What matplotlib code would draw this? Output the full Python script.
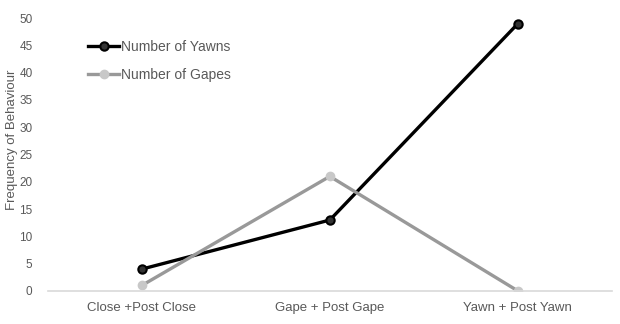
import matplotlib
matplotlib.use("Agg")
import matplotlib.pyplot as plt

plt.rcParams["font.family"] = ["Liberation Sans", "DejaVu Sans"]

categories = ["Close +Post Close", "Gape + Post Gape", "Yawn + Post Yawn"]
yawns = [4, 13, 49]
gapes = [1, 21, 0]

fig = plt.figure(figsize=(6.2, 3.24), dpi=100)
ax = fig.add_axes([0.077, 0.102, 0.91, 0.842])

x = list(range(len(categories)))
ax.plot(x, yawns, color="black", lw=2.4, marker="o", ms=6,
        mfc="#333333", mec="black", mew=1.5, label="Number of Yawns")
ax.plot(x, gapes, color="#999999", lw=2.4, marker="o", ms=6,
        mfc="#c8c8c8", mec="#c8c8c8", label="Number of Gapes")

ax.set_xlim(-0.5, 2.5)
ax.set_ylim(0, 50)
ax.set_yticks(range(0, 51, 5))
ax.set_xticks(x)
ax.set_xticklabels(categories)
ax.tick_params(colors="#595959", length=0)
ax.tick_params(axis="x", labelsize=9.5, pad=8)
ax.tick_params(axis="y", labelsize=8.5, pad=11)
for s in ["top", "right", "left"]:
    ax.spines[s].set_visible(False)
ax.spines["bottom"].set_color("#d9d9d9")
ax.spines["bottom"].set_linewidth(1.2)
ax.set_ylabel("Frequency of Behaviour", color="#595959", fontsize=9.5)
ax.yaxis.set_label_coords(-0.052, 0.553)

ax.legend(loc="upper left", bbox_to_anchor=(0.05, 0.965), frameon=False,
          fontsize=10, labelcolor="#595959", handlelength=2.2, handletextpad=0.15,
          labelspacing=1.0)

plt.savefig("out.png", dpi=100)
